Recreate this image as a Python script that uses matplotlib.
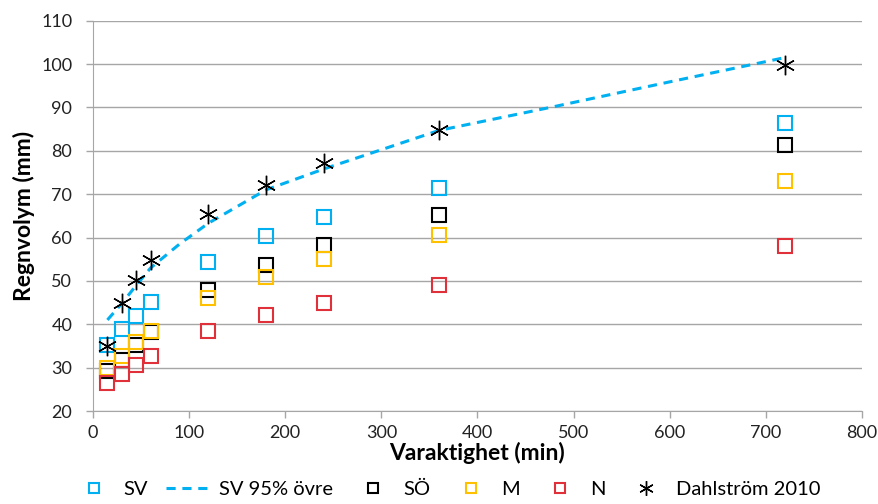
import matplotlib
matplotlib.use("Agg")
import matplotlib.pyplot as plt

plt.rcParams['font.family'] = ['Lato', 'DejaVu Sans']

durations = [15, 30, 45, 60, 120, 180, 240, 360, 720]
sv = [35.2, 38.9, 41.9, 45.2, 54.3, 60.3, 64.7, 71.4, 86.5]
so = [29.2, 31.8, 35.3, 38.3, 47.8, 53.6, 58.2, 65.3, 81.4]
m = [29.9, 32.7, 35.9, 38.5, 46.0, 51.0, 55.0, 60.5, 73.1]
n = [26.4, 28.6, 30.6, 32.6, 38.4, 42.2, 44.9, 49.0, 58.0]
dahl = [35.0, 44.9, 50.3, 54.8, 65.5, 72.0, 77.2, 84.9, 99.8]

sv95_x = [15, 30, 45, 60, 90, 120, 180, 240, 360, 480, 600, 720]
sv95_y = [41.0, 44.8, 49.0, 53.0, 58.5, 63.3, 71.0, 75.8, 84.7, 90.2, 95.9, 101.5]

c_sv = '#00B0F0'
c_so = '#000000'
c_m = '#FFC000'
c_n = '#E0303A'

fig = plt.figure(figsize=(8.79, 5.04), dpi=100)
ax = fig.add_axes([93/879, 1-411/504, (862-93)/879, (411-20.7)/504])

ms = 10
mew = 1.5
ax.plot(durations, sv, ls='none', marker='s', ms=ms, mfc='none', mec=c_sv, mew=mew, label='SV', zorder=3)
ax.plot(sv95_x, sv95_y, ls=(0, (3, 2.2)), color=c_sv, lw=2.2, label='SV 95% övre', zorder=3)
ax.plot(durations, so, ls='none', marker='s', ms=ms, mfc='none', mec=c_so, mew=mew, label='SÖ', zorder=3)
ax.plot(durations, m, ls='none', marker='s', ms=ms, mfc='none', mec=c_m, mew=mew, label='M', zorder=3)
ax.plot(durations, n, ls='none', marker='s', ms=ms, mfc='none', mec=c_n, mew=mew, label='N', zorder=3)
ax.plot(durations, dahl, ls='none', marker=(6, 2, 0), ms=14, mec='black', mew=1.0, label='Dahlström 2010', zorder=4)

ax.set_xlim(0, 800)
ax.set_ylim(20, 110)
ax.set_xticks(range(0, 801, 100))
ax.set_yticks(range(20, 111, 10))
ax.yaxis.grid(True, color='#A6A6A6', lw=1)
ax.set_axisbelow(True)
for s in ['top', 'right']:
    ax.spines[s].set_visible(False)
for s in ['left', 'bottom']:
    ax.spines[s].set_color('#A6A6A6')
ax.tick_params(axis='both', colors='#A6A6A6', labelcolor='#222222', labelsize=13, length=5, width=1)
ax.tick_params(axis='x', pad=5)
ax.tick_params(axis='y', pad=10)

ax.set_xlabel('Varaktighet (min)', fontsize=16.5, fontweight='bold', labelpad=1)
ax.set_ylabel('Regnvolym (mm)', fontsize=16.5, fontweight='bold', labelpad=4)

leg = fig.legend(loc='center', bbox_to_anchor=(446/879, 1-489/504), ncol=6, frameon=False,
                 fontsize=14.5, handlelength=2.2, handletextpad=0.4, columnspacing=0.9,
                 markerscale=0.75)

fig.savefig('out.png', dpi=100)
